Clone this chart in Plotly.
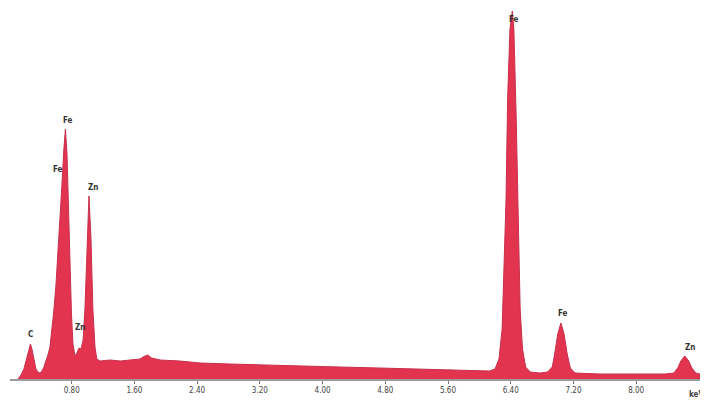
import plotly.graph_objects as go

# Spectrum: energy (keV) and counts
energy_kev = [0.115, 0.153, 0.19, 0.23, 0.255, 0.274, 0.293, 0.32, 0.344, 0.37, 0.395,
              0.42, 0.446, 0.47, 0.497, 0.523, 0.548, 0.574, 0.60, 0.625, 0.65, 0.676,
              0.70, 0.72, 0.74, 0.76, 0.778, 0.797, 0.816, 0.842, 0.867, 0.893, 0.918,
              0.944, 0.969, 0.995, 1.02, 1.046, 1.07, 1.097, 1.12, 1.16, 1.29, 1.42,
              1.54, 1.67, 1.735, 1.77, 1.82, 1.93, 2.18, 2.44, 2.82, 3.2, 3.71, 4.22,
              4.73, 5.24, 5.75, 6.13, 6.2, 6.25, 6.29, 6.31, 6.34, 6.36, 6.39, 6.42,
              6.44, 6.47, 6.50, 6.52, 6.55, 6.59, 6.65, 6.77, 6.87, 6.93, 6.96, 7.0,
              7.04, 7.08, 7.12, 7.16, 7.22, 7.54, 7.92, 8.37, 8.48, 8.53, 8.57, 8.62,
              8.67, 8.71, 8.76, 8.81, 8.92]
counts = [0, 40, 100, 220, 320, 350, 300, 180, 100, 70, 60,
          80, 120, 180, 240, 320, 500, 700, 950, 1250, 1600, 1950,
          2300, 2500, 2250, 1700, 1100, 650, 350, 230, 260, 310, 300,
          380, 700, 1300, 1830, 1400, 700, 320, 200, 180, 190, 180,
          190, 200, 230, 240, 210, 190, 180, 160, 150, 140, 130, 120,
          110, 100, 90, 80, 100, 200, 500, 1000, 1800, 2800, 3500, 3680,
          3500, 2600, 1500, 700, 300, 120, 70, 60, 70, 120, 250, 450,
          560, 450, 250, 110, 60, 50, 50, 50, 60, 110, 180, 230,
          180, 110, 60, 50, 50]

# Peak labels
label_text = ["C", "Fe", "Fe", "Zn", "Zn", "Fe", "Fe", "Zn"]
label_kev = [0.27, 0.75, 0.625, 1.07, 0.905, 6.44, 7.07, 8.69]
label_counts = [450, 2590, 2100, 1920, 520, 3600, 660, 320]

tick_vals = [0.8, 1.6, 2.4, 3.2, 4.0, 4.8, 5.6, 6.4, 7.2, 8.0]
tick_text = ["0.80", "1.60", "2.40", "3.20", "4.00", "4.80", "5.60", "6.40", "7.20", "8.00"]

fig = go.Figure()
fig.add_trace(go.Scatter(
    x=energy_kev, y=counts, mode="lines", fill="tozeroy",
    line=dict(color="#C8304C", width=1),
    fillcolor="#E2344F", hoverinfo="skip", showlegend=False))

for t, xk, yc in zip(label_text, label_kev, label_counts):
    fig.add_annotation(x=xk, y=yc, text="<b>" + t + "</b>", showarrow=False,
                       font=dict(size=8, color="#333333", family="DejaVu Sans Condensed"),
                       xanchor="center", yanchor="middle")

fig.add_annotation(xref="paper", yref="paper", x=0.984, y=-0.025, text="<b>keV</b>",
                   showarrow=False, yanchor="top", xanchor="center",
                   font=dict(size=8, color="#444444", family="DejaVu Sans Condensed"))

fig.update_layout(
    width=700, height=397,
    margin=dict(l=2, r=0, t=0, b=26),
    paper_bgcolor="white", plot_bgcolor="white",
    xaxis=dict(range=[0.013, 8.916], tickvals=tick_vals, ticktext=tick_text,
               showgrid=False, zeroline=False, showline=True, linecolor="#9a9a9a",
               linewidth=1.5, ticks="outside", ticklen=3, tickcolor="#777777",
               tickfont=dict(size=8, color="#444444", family="DejaVu Sans Condensed"),
               tickprefix="<b>", ticksuffix="</b>"),
    yaxis=dict(range=[0, 3710], visible=False),
)

fig.write_html("out.html")
